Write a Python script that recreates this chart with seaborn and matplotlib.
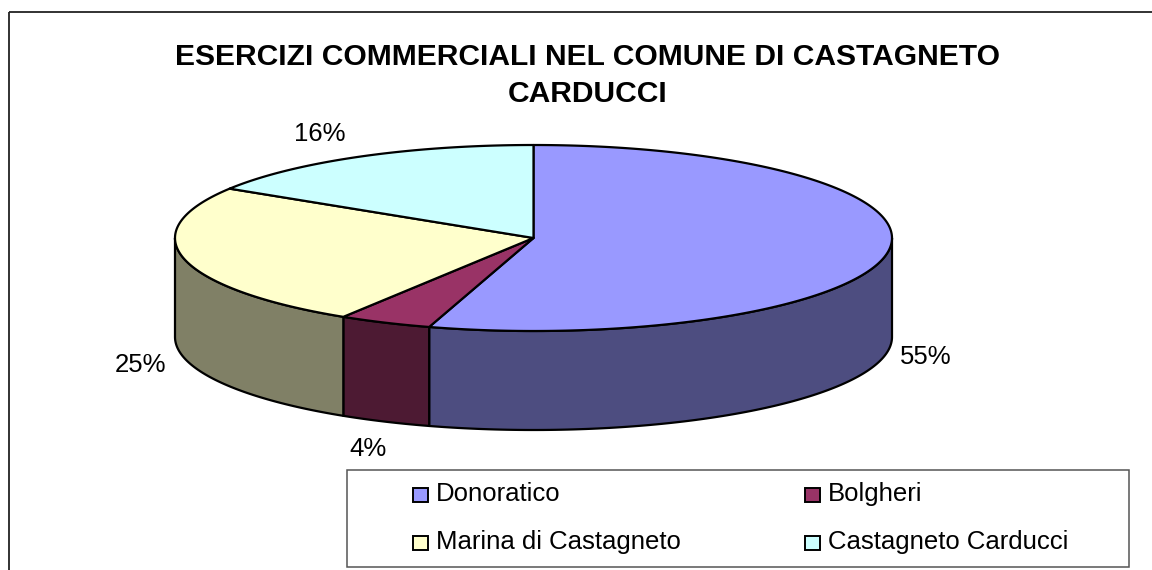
import numpy as np
import pandas as pd
import matplotlib
matplotlib.use("Agg")
import matplotlib.pyplot as plt
from matplotlib.patches import Polygon, Rectangle
import seaborn as sns

title_lines = ["ESERCIZI COMMERCIALI NEL COMUNE DI CASTAGNETO", "CARDUCCI"]
categories = ["Donoratico", "Bolgheri", "Marina di Castagneto", "Castagneto Carducci"]
shares = [54.7, 4.2, 25.0, 16.1]
labels = ["55%", "4%", "25%", "16%"]
top_colors = ["#9999FF", "#993366", "#FFFFCC", "#CCFFFF"]
side_colors = ["#4D4D80", "#4D1A33", "#808066", "#668080"]

sns.set_theme(style="white")
plt.rcParams["font.family"] = ["Liberation Sans", "DejaVu Sans"]

W, H = 1152, 570
fig = plt.figure(figsize=(W / 100, H / 100), dpi=100)
ax = fig.add_axes([0, 0, 1, 1])
ax.set_xlim(0, W)
ax.set_ylim(H, 0)
ax.axis("off")

# chart frame: only the top and left edges fall inside the crop
ax.plot([9, W], [12, 12], color="#222222", lw=1.3, zorder=1, solid_capstyle="butt")
ax.plot([9, 9], [12, H], color="#222222", lw=1.3, zorder=1, solid_capstyle="butt")

cx, cy, rx, ry, depth = 533.5, 238, 358.5, 93, 99
ol = dict(edgecolor="black", linewidth=1.6, joinstyle="round")

df = pd.DataFrame({"cat": categories, "share": shares})
df["end"] = df["share"].cumsum() / df["share"].sum() * 2 * np.pi
df["start"] = df["end"].shift(fill_value=0.0)

def rim(a0, a1):
    t = np.linspace(a0, a1, max(int((a1 - a0) * 60), 2))
    return cx + rx * np.sin(t), cy - ry * np.cos(t)

# side walls: only the front half (angles pi/2 .. 3pi/2 clockwise from 12 o'clock)
for i, r in df.iterrows():
    a0, a1 = max(r.start, np.pi / 2), min(r.end, 1.5 * np.pi)
    if a1 > a0:
        x, y = rim(a0, a1)
        pts = np.r_[np.c_[x, y], np.c_[x[::-1], y[::-1] + depth]]
        ax.add_patch(Polygon(pts, closed=True, facecolor=side_colors[i], zorder=2, **ol))

# top faces
for i, r in df.iterrows():
    x, y = rim(r.start, r.end)
    pts = np.r_[[[cx, cy]], np.c_[x, y]]
    ax.add_patch(Polygon(pts, closed=True, facecolor=top_colors[i], zorder=3, **ol))

# percentage labels
label_pos = [(926, 357), (368, 449), (141, 365), (320, 134)]
for t, (x, y) in zip(labels, label_pos):
    ax.text(x, y, t, ha="center", va="center", fontsize=18.5, color="black")

# title
ax.text(587.5, 57, title_lines[0], ha="center", va="center", fontsize=21.6, fontweight="bold", color="black")
ax.text(587.5, 94, title_lines[1], ha="center", va="center", fontsize=21.6, fontweight="bold", color="black")

# legend
ax.add_patch(Rectangle((347, 470), 782, 97, facecolor="white", ec="#555555", lw=1.1, zorder=4))
leg_pos = [(413, 493), (805, 493), (413, 541), (805, 541)]
for i, (name, (x, y)) in enumerate(zip(categories, leg_pos)):
    ax.add_patch(Rectangle((x, y - 5), 15, 14, facecolor=top_colors[i], ec="black", lw=1.4, zorder=5))
    ax.text(x + 23, y + 1, name, ha="left", va="center", fontsize=18.5, color="black", zorder=5)

fig.savefig("out.png", dpi=100, facecolor="white")
